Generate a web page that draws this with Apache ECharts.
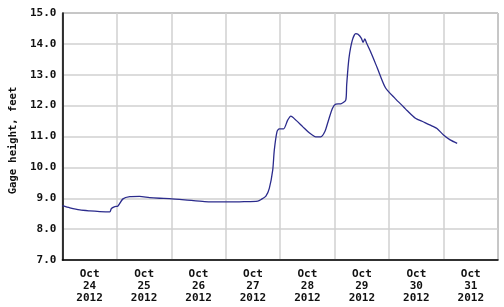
<!DOCTYPE html>
<html>
<head>
<meta charset="utf-8">
<script src="https://cdn.jsdelivr.net/npm/echarts@6/dist/echarts.min.js"></script>
<style>html,body{margin:0;padding:0;background:#fff}#c{width:504px;height:307px}</style>
</head>
<body>
<div id="c"></div>
<script>
// hours since Oct 24 2012 00:00
const hours = [0, 3.3, 7.7, 12.1, 16.5, 20.9, 21.6, 23.1, 24.5, 26.7, 29.7, 34.0, 38.4, 42.8, 47.2,
  53.9, 62.7, 73.0, 80.1, 86.1, 87.6, 89.7, 91.2, 92.7, 93.4, 94.6, 95.6, 97.5, 99.3, 100.7,
  102.9, 105.9, 108.8, 111.7, 113.9, 115.7, 117.1, 119.0, 120.5, 122.7, 124.9, 125.3, 126.3,
  127.8, 129.3, 130.3, 131.8, 132.5, 133.3, 134.1, 135.8, 138.8, 142.4, 146.8, 150.5, 151.9,
  155.6, 159.2, 163.6, 165.1, 168.0, 170.9, 174.0];
const gageFeet = [8.76, 8.69, 8.62, 8.59, 8.57, 8.56, 8.67, 8.73, 8.75, 8.98, 9.05, 9.06, 9.02, 9.00, 8.99,
  8.95, 8.89, 8.88, 8.89, 8.91, 8.96, 9.07, 9.32, 9.91, 10.56, 11.16, 11.25, 11.25, 11.53, 11.66,
  11.53, 11.32, 11.12, 10.99, 10.99, 11.16, 11.48, 11.91, 12.05, 12.06, 12.18, 12.67, 13.53,
  14.12, 14.33, 14.31, 14.18, 14.05, 14.16, 14.02, 13.75, 13.22, 12.58, 12.22, 11.95, 11.84,
  11.59, 11.47, 11.32, 11.26, 11.05, 10.89, 10.78];
const dayLabels = ['Oct\n24\n2012', 'Oct\n25\n2012', 'Oct\n26\n2012', 'Oct\n27\n2012',
  'Oct\n28\n2012', 'Oct\n29\n2012', 'Oct\n30\n2012', 'Oct\n31\n2012'];
const yTitle = 'Gage height, feet';

const font = 'DejaVu Sans Mono';
const chart = echarts.init(document.getElementById('c'), null, {renderer: 'canvas'});
chart.setOption({
  animation: false,
  backgroundColor: '#fff',
  grid: {left: 60, right: 6, top: 13, bottom: 47, show: true, borderColor: '#555', borderWidth: 1},
  xAxis: [{
    type: 'value', min: 0, max: 192, interval: 24,
    axisLine: {show: true, lineStyle: {color: '#000', width: 1.5}},
    axisTick: {show: false}, axisLabel: {show: false},
    splitLine: {show: true, lineStyle: {color: '#d0d0d0', width: 1.5}}
  }, {
    type: 'value', min: 0, max: 192, interval: 12, position: 'bottom',
    axisLine: {show: false}, axisTick: {show: false}, splitLine: {show: false},
    axisLabel: {
      show: true, margin: 8, color: '#111', fontFamily: font, fontWeight: 'bold', fontSize: 11, lineHeight: 12,
      formatter: v => (v % 24 === 12) ? dayLabels[(v - 12) / 24] : ''
    }
  }],
  yAxis: {
    type: 'value', min: 7, max: 15, interval: 1,
    name: yTitle, nameLocation: 'middle', nameGap: 42, nameRotate: 90,
    nameTextStyle: {color: '#111', fontFamily: font, fontWeight: 'bold', fontSize: 10.5, padding: [0, 0, 0, -8]},
    axisLine: {show: true, lineStyle: {color: '#000', width: 1.5}},
    axisTick: {show: false},
    axisLabel: {color: '#111', fontFamily: font, fontWeight: 'bold', fontSize: 11, margin: 6,
      formatter: v => v.toFixed(1)},
    splitLine: {show: true, lineStyle: {color: '#d0d0d0', width: 1.5}}
  },
  series: [{
    type: 'line', xAxisIndex: 0, showSymbol: false, smooth: 0.25,
    data: hours.map((h, i) => [h, gageFeet[i]]),
    lineStyle: {color: '#2b2b8c', width: 1.3}
  }]
});
</script>
</body>
</html>
